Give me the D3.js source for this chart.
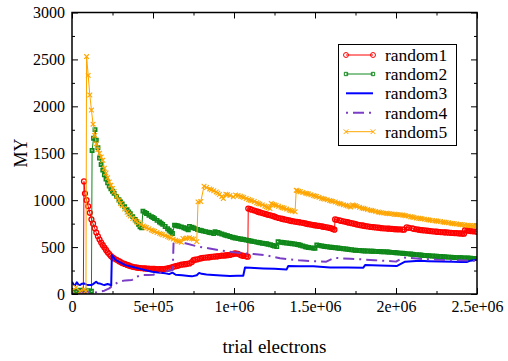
<!DOCTYPE html>
<html>
<head>
<meta charset="utf-8">
<script src="https://cdn.jsdelivr.net/npm/d3@7"></script>
<style>
  body { margin: 0; background: #fff; }
  svg { display: block; }
  text { font-family: "Liberation Serif", "Times New Roman", serif; fill: #000; }
</style>
</head>
<body>
<svg id="chart" width="508" height="361"></svg>
<script>
// trial electrons are stored in units of 1e4
const XUNIT = 1e4;

// [trial electrons / 1e4, MY]
const random1 = [
  [0,5],[2.5,15],[5,20],[7,25],[7.4,1200],[8,1071],[9,1000],[10,935],[11,865],[12,795],[13,750],[14,700],
  [15,655],[16,615],[17,580],[18,548],[19,520],[20,495],[21,470],[22,445],[23,425],[24,405],[25,390],
  [26,378],[27.5,365],[29,350],[30,340],[31,330],[32.5,320],[34,310],[35,305],[36,298],[37.5,290],[39,285],
  [40,282],[41,279],[42.5,276],[44,274],[45,272],[46,271],[47.5,270],[49,269],[50,268],[51,267],
  [52.5,266],[54,265],[55,265],[56,266],[57.5,268],[59,272],[60,275],[61,282],[62.5,290],[64,296],[65,300],
  [66,306],[67.5,312],[69,316],[70,318],[71,322],[72.5,326],[74,340],[75,360],[76,366],[77.5,370],[79,378],
  [80,382],[81,386],[82.5,388],[84,390],[85,392],[86,396],[87.5,398],[89,400],[90,402],[91,405],[92.5,408],
  [94,410],[95,412],[96,414],[97.5,416],[99,424],[100,430],[101,432],[102.5,428],[104,415],[105,410],
  [106,406],[107.5,402],[108.5,398],[108.8,911],[110,905],[111,898],[112.5,890],[114,882],[115,875],
  [116,869],[117.5,862],[119,855],[120,850],[121,844],[122.5,838],[124,830],[125,825],[126,818],[127.5,810],
  [129,804],[130,800],[131,795],[132.5,790],[134,784],[135,780],[136,776],[137.5,772],[139,768],[140,765],
  [141,762],[142.5,758],[144,752],[145,748],[146,744],[147.5,740],[149,735],[150,732],[151,729],[152.5,725],
  [154,721],[155,718],[156,714],[157.5,710],[159,704],[160,700],[161,694],[162,685],[162.4,795],[163.5,790],
  [165,785],[166,780],[167.5,775],[169,769],[170,765],[171,760],[172.5,755],[174,749],[175,745],[176,740],
  [177.5,735],[179,731],[180,728],[181,724],[182.5,720],[184,716],[185,714],[186,712],[187.5,710],[189,707],
  [190,705],[191,702],[192.5,700],[194,698],[195,697],[196,696],[197.5,694],[199,691],[200,690],[201,689],
  [202.5,688],[204,687],[205,686],[206.6,710],[208,705],[210,700],[211,695],[212.5,690],[214,685],[215,682],
  [216,680],[217.5,678],[219,676],[220,674],[221,671],[222.5,668],[224,666],[225,664],[226,662],[227.5,660],
  [229,658],[230,657],[231,656],[232.5,654],[234,652],[235,650],[236,649],[237.5,648],[239,646],[240,645],
  [241,644],[242,643],[242.6,680],[244,677],[245,675],[246,671],[247.5,668],[249,666],[250,664]
];

const random2 = [
  [0,20],[2.5,30],[5,40],[7.5,25],[10,35],[12,30],[12.4,1530],[13.3,1660],[14.2,1752],[15,1640],[16,1560],
  [17,1450],[18,1380],[19,1320],[20,1270],[21,1225],[22,1185],[23,1150],[24,1120],[25,1095],[26,1072],
  [27.5,1040],[29,1005],[30,980],[31,960],[32.5,930],[34,898],[35,875],[36,855],[37.5,825],[39,795],
  [40,770],[41,742],[42,716],[43,705],[43.8,883],[45,870],[46,858],[47.5,840],[49,825],[50,815],[51,803],
  [52.5,785],[54,768],[55,755],[56,742],[57.5,720],[59,696],[60,680],[61,664],[62,645],[63.3,734],[64,731],
  [65,728],[66,722],[67.5,715],[69,706],[70,700],[71,692],[71.8,684],[72.5,720],[74,712],[75,705],[76,697],
  [77.5,688],[79,680],[80,675],[81,670],[82.5,665],[84,659],[85,655],[86,651],[87.5,645],[88.3,663],[90,655],
  [91,648],[92.5,640],[94,631],[95,625],[96,620],[97.5,612],[99,605],[100,600],[101,597],[102.5,592],[104,587],
  [105,584],[106,580],[107.5,576],[109,570],[110,566],[111,562],[112.5,558],[114,553],[115,550],[116,546],
  [117.5,541],[119,537],[120,535],[121,530],[122.5,525],[124,517],[125,512],[126.4,505],[127.2,556],[129,552],
  [130,550],[131,547],[132.5,544],[134,540],[135,538],[136,535],[137.5,532],[139,528],[140,525],[141,519],
  [142.5,512],[144,504],[145,500],[146,496],[147.5,492],[149,489],[150,487],[151.1,522],[152.5,518],[154,513],
  [155,510],[156,507],[157.5,504],[159,500],[160,498],[161,496],[162.5,493],[164,490],[165,488],[166,486],
  [167.5,483],[169,480],[170,478],[171,475],[172.5,472],[174,468],[175,466],[176,465],[177.5,463],[179,461],
  [180,460],[181,459],[182.5,458],[184,457],[185,456],[186,455],[187.5,454],[189,453],[190,452],[191,451],
  [192.5,450],[194,449],[195,448],[196,446],[197.5,444],[199,442],[200,440],[201,438],[202.5,436],[204,434],
  [205,432],[206,430],[207.5,428],[209,426],[210,424],[211,422],[212.5,420],[214,417],[215,415],[216,413],
  [217.5,411],[219,409],[220,408],[221,406],[222.5,405],[224,403],[225,402],[226,400],[227.5,399],[229,397],
  [230,396],[231,395],[232.5,393],[234,391],[235,390],[236,389],[237.5,388],[239,387],[240,386],[241,385],
  [242.5,384],[244,383],[245,382],[246,381],[247.5,380],[249,379],[250,378]
];

const random3 = [
  [0,131],[1,100],[2,96],[3,125],[4,100],[5,96],[6,110],[7.5,113],[9,100],[10,96],[12,96],[13,105],
  [14.9,131],[16,115],[17,113],[19,100],[20,96],[22,106],[23.9,96],[24.2,88],[24.6,415],[27,362],
  [30,335],[33,308],[37,290],[41,273],[45,255],[49.5,237],[53,228],[57.7,220],[60,212],[62,227],[64,205],
  [68,200],[72,192],[74,188],[77,200],[78.5,225],[80,215],[83,208],[87.2,202],[92,196],[97.5,191],
  [102,195],[105.7,195],[106.8,283],[110,280],[118,273],[125,268],[132.5,262],[133.5,298],[140,296],
  [149,295],[153,290],[159.3,283],[170,282],[179.8,280],[180.9,308],[190,303],[200.4,298],[205.6,344],
  [210,350],[214.8,354],[220,350],[235.4,344],[240,340],[244,342],[246,355],[249.8,365]
];

const random4 = [
  [0,10],[5,15],[10,18],[14,15],[16.9,25],[20,35],[23,60],[26,100],[29,131],[33,145],[37,149],[40,184],
  [43,202],[47,202],[50,205],[54,225],[57.4,237],[60,248],[62.2,255],[62.7,556],[65,556],[70,540],
  [78,504],[85,485],[90.3,468],[100,445],[106.8,433],[112,425],[119.1,415],[128.4,380],[140,360],
  [149,350],[157,345],[162,385],[171.6,375],[180,368],[186.7,360],[195,352],[200,345],[204.5,390],
  [214.8,375],[225,365],[235.4,360],[249.8,354]
];

const random5 = [
  [0,40],[2.5,70],[5,30],[7.5,50],[8.6,30],[9,2530],[10,2330],[11,2120],[12,1960],[13,1810],[14,1690],
  [15,1600],[16,1540],[17,1500],[18,1460],[19,1425],[20,1340],[21,1290],[22,1240],[23,1195],[24,1160],
  [25,1125],[26,1092],[27.5,1040],[29,998],[30,965],[31,942],[32.5,905],[34,872],[35,850],[36,832],
  [37.5,805],[39,785],[40,770],[41,758],[42.5,740],[44,726],[45,715],[46,706],[47.5,695],[49,683],
  [50,675],[51,667],[52.5,655],[54,646],[55,640],[56,632],[57.5,622],[59,612],[60,605],[61,597],
  [62.5,585],[64,573],[65,565],[66,560],[67.5,552],[68.5,592],[70,590],[71,596],[72.5,600],[74,592],
  [75,585],[77,558],[77.8,982],[79.5,985],[81.5,1149],[83,1135],[85,1120],[86,1110],[87.5,1100],[89,1088],
  [90,1075],[91,1060],[92.5,1040],[93.4,1018],[95,1064],[96,1057],[97.5,1050],[99.6,1035],[101,1055],
  [102.5,1050],[104,1041],[105,1035],[106,1028],[107.5,1018],[109,1008],[110,1000],[111,994],[112.5,985],
  [114,972],[115,965],[116,958],[117.5,950],[119,938],[120,930],[121,920],[122.2,911],[123,964],[124,956],
  [125,950],[126,944],[127.5,935],[129,926],[130,920],[131,914],[132.5,905],[134,896],[135,890],[136,884],
  [137.7,876],[138.4,1106],[139,1100],[140,1095],[141,1090],[142.5,1082],[144,1075],[145,1070],[146,1065],
  [147.5,1058],[149,1050],[150,1045],[151,1039],[152.5,1030],[154,1021],[155,1015],[156,1011],[157.5,1005],
  [159,997],[160,992],[161,987],[162.5,980],[164,971],[165,965],[166,960],[167.5,952],[169,945],[170,940],
  [171,934],[172,928],[173.2,948],[174,944],[175,940],[176,934],[177.5,925],[179,917],[180,912],[181,907],
  [182.5,900],[184,894],[185,890],[186,886],[187.5,880],[189,874],[190,870],[191,866],[192.5,862],[194,860],
  [195,858],[196,856],[197.5,854],[199,850],[200,848],[201,846],[202.5,844],[204,841],[205,838],[206,834],
  [207.5,830],[209,824],[210,820],[211,815],[212.5,810],[214,807],[215,805],[216,802],[217.5,798],[219,793],
  [220,790],[221,787],[222.5,784],[224,780],[225,778],[226,775],[227.5,772],[229,768],[230,765],[231,763],
  [232.5,760],[234,755],[235,752],[236,749],[237.5,745],[239,742],[240,740],[241,738],[242.5,735],[244,732],
  [245,730],[246,729],[247.5,727],[249,725],[250,723]
];

const seriesNames = ["random1", "random2", "random3", "random4", "random5"];
const xTickValues = [0, 5e5, 1e6, 1.5e6, 2e6, 2.5e6];
const xTickLabels = ["0", "5e+05", "1e+06", "1.5e+06", "2e+06", "2.5e+06"];
const xMinorTicks = [2.5e5, 7.5e5, 1.25e6, 1.75e6, 2.25e6];
const yTickValues = [0, 500, 1000, 1500, 2000, 2500, 3000];
const yMinorTicks = [250, 750, 1250, 1750, 2250, 2750];

const seriesData = [random1, random2, random3, random4, random5];
const styles = [
  { color: "#ff0000", width: 1, marker: "circle", markerWidth: 1.3 },
  { color: "#10881a", width: 1, marker: "square", markerWidth: 1.6 },
  { color: "#0000ff", width: 2, marker: null },
  { color: "#7a3dc6", width: 2, marker: null, dash: "2,5,11,5" },
  { color: "#ffa500", width: 1, marker: "x", markerWidth: 1.1 }
];

const svg = d3.select("#chart");
const plot = { left: 72, right: 477, top: 12.5, bottom: 294 };

const x = d3.scaleLinear().domain([0, 2.5e6]).range([plot.left, plot.right]);
const y = d3.scaleLinear().domain([0, 3000]).range([plot.bottom, plot.top]);

svg.append("defs").append("clipPath").attr("id", "plotclip")
  .append("rect")
  .attr("x", plot.left).attr("y", plot.top)
  .attr("width", plot.right - plot.left).attr("height", plot.bottom - plot.top);

// axes: inward ticks on all four sides
function styleAxis(g) {
  g.attr("font-family", null);
  g.select(".domain").remove();
  g.selectAll(".tick line").attr("stroke", "#000").attr("stroke-width", 1);
  g.selectAll("text").attr("font-size", 16);
}

const majorLen = 6, minorLen = 3;

svg.append("g").attr("transform", `translate(0,${plot.bottom})`)
  .call(d3.axisBottom(x).tickValues(xTickValues).tickSizeInner(-majorLen).tickSizeOuter(0)
    .tickPadding(7).tickFormat((d, i) => xTickLabels[i]))
  .call(styleAxis);
svg.append("g").attr("transform", `translate(0,${plot.bottom})`)
  .call(d3.axisBottom(x).tickValues(xMinorTicks).tickSizeInner(-minorLen).tickSizeOuter(0).tickFormat(""))
  .call(styleAxis);
svg.append("g").attr("transform", `translate(0,${plot.top})`)
  .call(d3.axisTop(x).tickValues(xTickValues).tickSizeInner(-majorLen).tickSizeOuter(0).tickFormat(""))
  .call(styleAxis);
svg.append("g").attr("transform", `translate(0,${plot.top})`)
  .call(d3.axisTop(x).tickValues(xMinorTicks).tickSizeInner(-minorLen).tickSizeOuter(0).tickFormat(""))
  .call(styleAxis);

svg.append("g").attr("transform", `translate(${plot.left},0)`)
  .call(d3.axisLeft(y).tickValues(yTickValues).tickSizeInner(-majorLen).tickSizeOuter(0)
    .tickPadding(7).tickFormat(d3.format("d")))
  .call(styleAxis);
svg.append("g").attr("transform", `translate(${plot.left},0)`)
  .call(d3.axisLeft(y).tickValues(yMinorTicks).tickSizeInner(-minorLen).tickSizeOuter(0).tickFormat(""))
  .call(styleAxis);
svg.append("g").attr("transform", `translate(${plot.right},0)`)
  .call(d3.axisRight(y).tickValues(yTickValues).tickSizeInner(-majorLen).tickSizeOuter(0).tickFormat(""))
  .call(styleAxis);
svg.append("g").attr("transform", `translate(${plot.right},0)`)
  .call(d3.axisRight(y).tickValues(yMinorTicks).tickSizeInner(-minorLen).tickSizeOuter(0).tickFormat(""))
  .call(styleAxis);

// series
const line = d3.line().x(d => x(d[0] * XUNIT)).y(d => y(d[1]));
const symbolFor = {
  circle: d3.symbol().type(d3.symbolCircle).size(19),
  square: d3.symbol().type(d3.symbolSquare).size(11),
  x: d3.symbol().type(d3.symbolX).size(16)
};

const area = svg.append("g").attr("clip-path", "url(#plotclip)");
seriesData.forEach((data, i) => {
  const s = styles[i];
  const g = area.append("g").attr("class", seriesNames[i]);
  g.append("path")
    .datum(data)
    .attr("d", line)
    .attr("fill", "none")
    .attr("stroke", s.color)
    .attr("stroke-width", s.width)
    .attr("stroke-dasharray", s.dash || null)
    .attr("stroke-linejoin", "round");
  if (s.marker) {
    g.selectAll("path.pt")
      .data(data)
      .join("path")
      .attr("class", "pt")
      .attr("transform", d => `translate(${x(d[0] * XUNIT)},${y(d[1])})`)
      .attr("d", symbolFor[s.marker]())
      .attr("fill", "none")
      .attr("stroke", s.color)
      .attr("stroke-width", s.markerWidth);
  }
});

// frame
svg.append("rect")
  .attr("x", plot.left).attr("y", plot.top)
  .attr("width", plot.right - plot.left).attr("height", plot.bottom - plot.top)
  .attr("fill", "none").attr("stroke", "#000").attr("stroke-width", 1.5);

// axis titles
svg.append("text")
  .attr("x", (plot.left + plot.right) / 2).attr("y", 353)
  .attr("text-anchor", "middle").attr("font-size", 19)
  .text("trial electrons");
svg.append("text")
  .attr("transform", "translate(27,153) rotate(-90)")
  .attr("text-anchor", "middle").attr("font-size", 18)
  .text("MY");

// legend
const legend = svg.append("g");
legend.append("rect")
  .attr("x", 338.5).attr("y", 44.5).attr("width", 118).attr("height", 101)
  .attr("fill", "#fff").attr("stroke", "#000").attr("stroke-width", 1);
const rowY = [55, 74, 93.3, 112.7, 131.7];
seriesNames.forEach((name, i) => {
  const s = styles[i];
  const ly = rowY[i];
  legend.append("line")
    .attr("x1", 346).attr("x2", 373).attr("y1", ly).attr("y2", ly)
    .attr("stroke", s.color).attr("stroke-width", s.width)
    .attr("stroke-dasharray", s.dash || null);
  if (s.marker) {
    [346, 373].forEach(px => {
      legend.append("path")
        .attr("transform", `translate(${px},${ly})`)
        .attr("d", symbolFor[s.marker]())
        .attr("fill", "none").attr("stroke", s.color)
        .attr("stroke-width", 1);
    });
  }
  legend.append("text")
    .attr("x", 385).attr("y", ly).attr("dy", "0.34em")
    .attr("font-size", 17.5)
    .text(name);
});
</script>
</body>
</html>
